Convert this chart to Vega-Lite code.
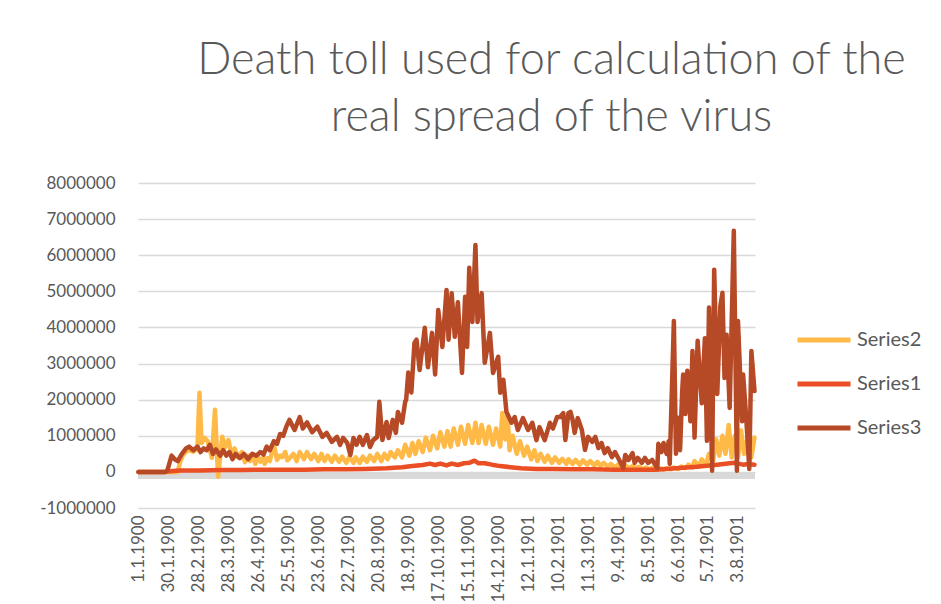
{
  "$schema": "https://vega.github.io/schema/vega-lite/v6.json",
  "width": 617,
  "height": 325,
  "autosize": {"type": "none"},
  "padding": {"left": 138, "top": 183, "right": 186, "bottom": 96},
  "background": "white",
  "title": {
    "text": ["Death toll used for calculation of the", "real spread of the virus"],
    "font": "Lato",
    "fontWeight": 300,
    "fontSize": 45,
    "color": "#595959",
    "anchor": "middle",
    "frame": "group",
    "dx": 105,
    "lineHeight": 57,
    "baseline": "bottom",
    "offset": -11
  },
  "config": {
    "view": {"stroke": null},
    "font": "Lato",
    "axisY": {
      "labelFont": "Lato",
      "labelFontSize": 17,
      "labelColor": "#595959",
      "labelPadding": 23,
      "labelOverlap": false,
      "labelBound": false,
      "labelFlush": false,
      "grid": true,
      "gridColor": "#d9d9d9",
      "gridWidth": 1.3,
      "ticks": false,
      "domain": false
    }
  },
  "data": {
    "values": [
      {"d":0,"s":"Series2","v":0},{"d":26,"s":"Series2","v":0},{"d":38,"s":"Series2","v":0},{"d":40,"s":"Series2","v":250000},{"d":43,"s":"Series2","v":470000},{"d":48,"s":"Series2","v":610000},{"d":53,"s":"Series2","v":560000},{"d":57,"s":"Series2","v":650000},{"d":59,"s":"Series2","v":2190000},{"d":61,"s":"Series2","v":800000},{"d":64,"s":"Series2","v":940000},{"d":67,"s":"Series2","v":850000},{"d":71,"s":"Series2","v":390000},{"d":74,"s":"Series2","v":1720000},{"d":77,"s":"Series2","v":-140000},{"d":81,"s":"Series2","v":970000},{"d":84,"s":"Series2","v":690000},{"d":87,"s":"Series2","v":880000},{"d":90,"s":"Series2","v":470000},{"d":93,"s":"Series2","v":650000},{"d":96,"s":"Series2","v":410000},{"d":100,"s":"Series2","v":550000},{"d":103,"s":"Series2","v":270000},{"d":106,"s":"Series2","v":450000},{"d":108,"s":"Series2","v":300000},{"d":111,"s":"Series2","v":420000},{"d":113,"s":"Series2","v":220000},{"d":116,"s":"Series2","v":400000},{"d":118,"s":"Series2","v":280000},{"d":121,"s":"Series2","v":400000},{"d":122,"s":"Series2","v":220000},{"d":125,"s":"Series2","v":380000},{"d":127,"s":"Series2","v":300000},{"d":131,"s":"Series2","v":750000},{"d":134,"s":"Series2","v":330000},{"d":137,"s":"Series2","v":450000},{"d":139,"s":"Series2","v":410000},{"d":142,"s":"Series2","v":550000},{"d":144,"s":"Series2","v":320000},{"d":147,"s":"Series2","v":400000},{"d":150,"s":"Series2","v":500000},{"d":153,"s":"Series2","v":300000},{"d":156,"s":"Series2","v":550000},{"d":160,"s":"Series2","v":350000},{"d":163,"s":"Series2","v":550000},{"d":167,"s":"Series2","v":350000},{"d":170,"s":"Series2","v":500000},{"d":174,"s":"Series2","v":300000},{"d":177,"s":"Series2","v":500000},{"d":180,"s":"Series2","v":300000},{"d":183,"s":"Series2","v":450000},{"d":187,"s":"Series2","v":280000},{"d":190,"s":"Series2","v":450000},{"d":194,"s":"Series2","v":280000},{"d":197,"s":"Series2","v":420000},{"d":201,"s":"Series2","v":250000},{"d":204,"s":"Series2","v":420000},{"d":208,"s":"Series2","v":250000},{"d":210,"s":"Series2","v":400000},{"d":214,"s":"Series2","v":250000},{"d":217,"s":"Series2","v":420000},{"d":221,"s":"Series2","v":280000},{"d":224,"s":"Series2","v":450000},{"d":228,"s":"Series2","v":300000},{"d":231,"s":"Series2","v":500000},{"d":235,"s":"Series2","v":300000},{"d":238,"s":"Series2","v":500000},{"d":241,"s":"Series2","v":350000},{"d":244,"s":"Series2","v":550000},{"d":248,"s":"Series2","v":400000},{"d":251,"s":"Series2","v":600000},{"d":255,"s":"Series2","v":400000},{"d":258,"s":"Series2","v":750000},{"d":262,"s":"Series2","v":450000},{"d":265,"s":"Series2","v":800000},{"d":268,"s":"Series2","v":500000},{"d":271,"s":"Series2","v":850000},{"d":275,"s":"Series2","v":550000},{"d":278,"s":"Series2","v":950000},{"d":282,"s":"Series2","v":600000},{"d":285,"s":"Series2","v":1000000},{"d":289,"s":"Series2","v":650000},{"d":292,"s":"Series2","v":1100000},{"d":296,"s":"Series2","v":700000},{"d":299,"s":"Series2","v":1130000},{"d":302,"s":"Series2","v":700000},{"d":305,"s":"Series2","v":1200000},{"d":309,"s":"Series2","v":750000},{"d":312,"s":"Series2","v":1250000},{"d":316,"s":"Series2","v":780000},{"d":319,"s":"Series2","v":1300000},{"d":323,"s":"Series2","v":800000},{"d":326,"s":"Series2","v":1360000},{"d":329,"s":"Series2","v":800000},{"d":332,"s":"Series2","v":1300000},{"d":336,"s":"Series2","v":780000},{"d":339,"s":"Series2","v":1250000},{"d":343,"s":"Series2","v":750000},{"d":346,"s":"Series2","v":1200000},{"d":350,"s":"Series2","v":700000},{"d":352,"s":"Series2","v":1630000},{"d":355,"s":"Series2","v":900000},{"d":357,"s":"Series2","v":1600000},{"d":359,"s":"Series2","v":600000},{"d":362,"s":"Series2","v":1000000},{"d":366,"s":"Series2","v":500000},{"d":369,"s":"Series2","v":850000},{"d":373,"s":"Series2","v":450000},{"d":376,"s":"Series2","v":700000},{"d":380,"s":"Series2","v":350000},{"d":383,"s":"Series2","v":600000},{"d":386,"s":"Series2","v":300000},{"d":389,"s":"Series2","v":500000},{"d":393,"s":"Series2","v":280000},{"d":396,"s":"Series2","v":450000},{"d":400,"s":"Series2","v":250000},{"d":403,"s":"Series2","v":400000},{"d":407,"s":"Series2","v":250000},{"d":410,"s":"Series2","v":360000},{"d":414,"s":"Series2","v":220000},{"d":416,"s":"Series2","v":350000},{"d":420,"s":"Series2","v":220000},{"d":423,"s":"Series2","v":330000},{"d":427,"s":"Series2","v":200000},{"d":430,"s":"Series2","v":320000},{"d":434,"s":"Series2","v":200000},{"d":437,"s":"Series2","v":300000},{"d":441,"s":"Series2","v":180000},{"d":444,"s":"Series2","v":280000},{"d":447,"s":"Series2","v":170000},{"d":450,"s":"Series2","v":250000},{"d":454,"s":"Series2","v":150000},{"d":457,"s":"Series2","v":220000},{"d":461,"s":"Series2","v":130000},{"d":464,"s":"Series2","v":200000},{"d":468,"s":"Series2","v":120000},{"d":471,"s":"Series2","v":180000},{"d":475,"s":"Series2","v":100000},{"d":478,"s":"Series2","v":160000},{"d":481,"s":"Series2","v":100000},{"d":484,"s":"Series2","v":140000},{"d":488,"s":"Series2","v":80000},{"d":491,"s":"Series2","v":120000},{"d":495,"s":"Series2","v":70000},{"d":498,"s":"Series2","v":120000},{"d":502,"s":"Series2","v":60000},{"d":505,"s":"Series2","v":100000},{"d":508,"s":"Series2","v":60000},{"d":511,"s":"Series2","v":100000},{"d":515,"s":"Series2","v":70000},{"d":518,"s":"Series2","v":120000},{"d":522,"s":"Series2","v":80000},{"d":525,"s":"Series2","v":150000},{"d":529,"s":"Series2","v":100000},{"d":532,"s":"Series2","v":200000},{"d":536,"s":"Series2","v":120000},{"d":538,"s":"Series2","v":300000},{"d":542,"s":"Series2","v":150000},{"d":545,"s":"Series2","v":350000},{"d":549,"s":"Series2","v":200000},{"d":552,"s":"Series2","v":500000},{"d":556,"s":"Series2","v":300000},{"d":559,"s":"Series2","v":900000},{"d":562,"s":"Series2","v":450000},{"d":565,"s":"Series2","v":1000000},{"d":568,"s":"Series2","v":500000},{"d":571,"s":"Series2","v":1300000},{"d":574,"s":"Series2","v":400000},{"d":577,"s":"Series2","v":1000000},{"d":580,"s":"Series2","v":400000},{"d":583,"s":"Series2","v":1150000},{"d":586,"s":"Series2","v":500000},{"d":590,"s":"Series2","v":1000000},{"d":593,"s":"Series2","v":400000},{"d":596,"s":"Series2","v":950000},
      {"d":0,"s":"Series1","v":0},{"d":26,"s":"Series1","v":0},{"d":30,"s":"Series1","v":20000},{"d":40,"s":"Series1","v":40000},{"d":60,"s":"Series1","v":40000},{"d":80,"s":"Series1","v":50000},{"d":100,"s":"Series1","v":50000},{"d":120,"s":"Series1","v":60000},{"d":140,"s":"Series1","v":60000},{"d":160,"s":"Series1","v":60000},{"d":180,"s":"Series1","v":70000},{"d":200,"s":"Series1","v":70000},{"d":220,"s":"Series1","v":80000},{"d":240,"s":"Series1","v":100000},{"d":255,"s":"Series1","v":130000},{"d":265,"s":"Series1","v":160000},{"d":275,"s":"Series1","v":190000},{"d":282,"s":"Series1","v":230000},{"d":287,"s":"Series1","v":190000},{"d":292,"s":"Series1","v":230000},{"d":298,"s":"Series1","v":180000},{"d":303,"s":"Series1","v":230000},{"d":309,"s":"Series1","v":190000},{"d":315,"s":"Series1","v":240000},{"d":320,"s":"Series1","v":250000},{"d":325,"s":"Series1","v":310000},{"d":329,"s":"Series1","v":240000},{"d":335,"s":"Series1","v":240000},{"d":342,"s":"Series1","v":200000},{"d":350,"s":"Series1","v":160000},{"d":360,"s":"Series1","v":130000},{"d":370,"s":"Series1","v":100000},{"d":385,"s":"Series1","v":80000},{"d":400,"s":"Series1","v":80000},{"d":420,"s":"Series1","v":70000},{"d":440,"s":"Series1","v":70000},{"d":460,"s":"Series1","v":60000},{"d":480,"s":"Series1","v":60000},{"d":500,"s":"Series1","v":60000},{"d":510,"s":"Series1","v":80000},{"d":520,"s":"Series1","v":100000},{"d":530,"s":"Series1","v":120000},{"d":540,"s":"Series1","v":140000},{"d":550,"s":"Series1","v":170000},{"d":560,"s":"Series1","v":200000},{"d":570,"s":"Series1","v":230000},{"d":577,"s":"Series1","v":250000},{"d":585,"s":"Series1","v":200000},{"d":590,"s":"Series1","v":220000},{"d":596,"s":"Series1","v":200000},
      {"d":0,"s":"Series3","v":0},{"d":26,"s":"Series3","v":0},{"d":28,"s":"Series3","v":50000},{"d":32,"s":"Series3","v":450000},{"d":35,"s":"Series3","v":350000},{"d":38,"s":"Series3","v":300000},{"d":42,"s":"Series3","v":500000},{"d":46,"s":"Series3","v":650000},{"d":49,"s":"Series3","v":700000},{"d":53,"s":"Series3","v":600000},{"d":57,"s":"Series3","v":700000},{"d":60,"s":"Series3","v":550000},{"d":63,"s":"Series3","v":650000},{"d":66,"s":"Series3","v":600000},{"d":69,"s":"Series3","v":750000},{"d":72,"s":"Series3","v":500000},{"d":75,"s":"Series3","v":620000},{"d":79,"s":"Series3","v":450000},{"d":82,"s":"Series3","v":600000},{"d":85,"s":"Series3","v":450000},{"d":88,"s":"Series3","v":550000},{"d":91,"s":"Series3","v":350000},{"d":94,"s":"Series3","v":500000},{"d":98,"s":"Series3","v":380000},{"d":102,"s":"Series3","v":500000},{"d":106,"s":"Series3","v":350000},{"d":110,"s":"Series3","v":500000},{"d":114,"s":"Series3","v":450000},{"d":118,"s":"Series3","v":550000},{"d":121,"s":"Series3","v":480000},{"d":124,"s":"Series3","v":700000},{"d":127,"s":"Series3","v":600000},{"d":131,"s":"Series3","v":850000},{"d":134,"s":"Series3","v":780000},{"d":137,"s":"Series3","v":1050000},{"d":140,"s":"Series3","v":1000000},{"d":143,"s":"Series3","v":1250000},{"d":146,"s":"Series3","v":1440000},{"d":151,"s":"Series3","v":1160000},{"d":156,"s":"Series3","v":1520000},{"d":159,"s":"Series3","v":1200000},{"d":163,"s":"Series3","v":1370000},{"d":168,"s":"Series3","v":1100000},{"d":173,"s":"Series3","v":1250000},{"d":178,"s":"Series3","v":970000},{"d":182,"s":"Series3","v":1080000},{"d":187,"s":"Series3","v":830000},{"d":192,"s":"Series3","v":970000},{"d":195,"s":"Series3","v":750000},{"d":198,"s":"Series3","v":940000},{"d":202,"s":"Series3","v":800000},{"d":205,"s":"Series3","v":470000},{"d":208,"s":"Series3","v":940000},{"d":211,"s":"Series3","v":750000},{"d":214,"s":"Series3","v":970000},{"d":217,"s":"Series3","v":750000},{"d":221,"s":"Series3","v":1020000},{"d":224,"s":"Series3","v":690000},{"d":227,"s":"Series3","v":880000},{"d":231,"s":"Series3","v":970000},{"d":233,"s":"Series3","v":1940000},{"d":236,"s":"Series3","v":880000},{"d":240,"s":"Series3","v":1380000},{"d":242,"s":"Series3","v":940000},{"d":246,"s":"Series3","v":1440000},{"d":249,"s":"Series3","v":1080000},{"d":251,"s":"Series3","v":1660000},{"d":255,"s":"Series3","v":1360000},{"d":258,"s":"Series3","v":1940000},{"d":259,"s":"Series3","v":2000000},{"d":261,"s":"Series3","v":2750000},{"d":264,"s":"Series3","v":2200000},{"d":267,"s":"Series3","v":3570000},{"d":269,"s":"Series3","v":3660000},{"d":272,"s":"Series3","v":2820000},{"d":277,"s":"Series3","v":3990000},{"d":280,"s":"Series3","v":2900000},{"d":284,"s":"Series3","v":3850000},{"d":287,"s":"Series3","v":2700000},{"d":290,"s":"Series3","v":4480000},{"d":294,"s":"Series3","v":3460000},{"d":298,"s":"Series3","v":5040000},{"d":300,"s":"Series3","v":3660000},{"d":303,"s":"Series3","v":4950000},{"d":306,"s":"Series3","v":3740000},{"d":309,"s":"Series3","v":4700000},{"d":313,"s":"Series3","v":2740000},{"d":316,"s":"Series3","v":4850000},{"d":318,"s":"Series3","v":3460000},{"d":320,"s":"Series3","v":5650000},{"d":323,"s":"Series3","v":4150000},{"d":326,"s":"Series3","v":6280000},{"d":328,"s":"Series3","v":4150000},{"d":332,"s":"Series3","v":4950000},{"d":335,"s":"Series3","v":3020000},{"d":340,"s":"Series3","v":3850000},{"d":343,"s":"Series3","v":2740000},{"d":348,"s":"Series3","v":3190000},{"d":350,"s":"Series3","v":2190000},{"d":353,"s":"Series3","v":2550000},{"d":356,"s":"Series3","v":1660000},{"d":361,"s":"Series3","v":1360000},{"d":364,"s":"Series3","v":1520000},{"d":367,"s":"Series3","v":1160000},{"d":372,"s":"Series3","v":1490000},{"d":377,"s":"Series3","v":1160000},{"d":381,"s":"Series3","v":1360000},{"d":385,"s":"Series3","v":880000},{"d":388,"s":"Series3","v":1240000},{"d":393,"s":"Series3","v":880000},{"d":398,"s":"Series3","v":1360000},{"d":401,"s":"Series3","v":1200000},{"d":405,"s":"Series3","v":1520000},{"d":408,"s":"Series3","v":1520000},{"d":411,"s":"Series3","v":1630000},{"d":413,"s":"Series3","v":880000},{"d":416,"s":"Series3","v":1630000},{"d":418,"s":"Series3","v":1660000},{"d":420,"s":"Series3","v":1440000},{"d":422,"s":"Series3","v":1080000},{"d":425,"s":"Series3","v":1490000},{"d":429,"s":"Series3","v":1160000},{"d":432,"s":"Series3","v":610000},{"d":435,"s":"Series3","v":970000},{"d":439,"s":"Series3","v":830000},{"d":442,"s":"Series3","v":970000},{"d":445,"s":"Series3","v":660000},{"d":448,"s":"Series3","v":800000},{"d":451,"s":"Series3","v":520000},{"d":454,"s":"Series3","v":660000},{"d":458,"s":"Series3","v":410000},{"d":461,"s":"Series3","v":550000},{"d":464,"s":"Series3","v":390000},{"d":469,"s":"Series3","v":110000},{"d":471,"s":"Series3","v":470000},{"d":474,"s":"Series3","v":330000},{"d":478,"s":"Series3","v":520000},{"d":480,"s":"Series3","v":250000},{"d":483,"s":"Series3","v":390000},{"d":487,"s":"Series3","v":250000},{"d":490,"s":"Series3","v":390000},{"d":493,"s":"Series3","v":250000},{"d":497,"s":"Series3","v":330000},{"d":502,"s":"Series3","v":110000},{"d":503,"s":"Series3","v":780000},{"d":506,"s":"Series3","v":550000},{"d":508,"s":"Series3","v":800000},{"d":511,"s":"Series3","v":500000},{"d":513,"s":"Series3","v":850000},{"d":514,"s":"Series3","v":220000},{"d":518,"s":"Series3","v":4180000},{"d":520,"s":"Series3","v":500000},{"d":522,"s":"Series3","v":1500000},{"d":524,"s":"Series3","v":600000},{"d":526,"s":"Series3","v":2200000},{"d":527,"s":"Series3","v":2700000},{"d":529,"s":"Series3","v":1600000},{"d":531,"s":"Series3","v":2800000},{"d":534,"s":"Series3","v":1400000},{"d":536,"s":"Series3","v":3350000},{"d":538,"s":"Series3","v":950000},{"d":541,"s":"Series3","v":3630000},{"d":545,"s":"Series3","v":1900000},{"d":548,"s":"Series3","v":3700000},{"d":550,"s":"Series3","v":860000},{"d":552,"s":"Series3","v":4550000},{"d":555,"s":"Series3","v":30000},{"d":557,"s":"Series3","v":5600000},{"d":560,"s":"Series3","v":2160000},{"d":563,"s":"Series3","v":4600000},{"d":565,"s":"Series3","v":4960000},{"d":567,"s":"Series3","v":2600000},{"d":569,"s":"Series3","v":3800000},{"d":572,"s":"Series3","v":1770000},{"d":576,"s":"Series3","v":6680000},{"d":579,"s":"Series3","v":30000},{"d":580,"s":"Series3","v":4180000},{"d":584,"s":"Series3","v":1400000},{"d":585,"s":"Series3","v":2700000},{"d":588,"s":"Series3","v":1500000},{"d":591,"s":"Series3","v":80000},{"d":593,"s":"Series3","v":3350000},{"d":596,"s":"Series3","v":2240000}
    ]
  },
  "layer": [
    {
      "mark": {"type": "rule", "color": "#d9d9d9", "strokeWidth": 7, "yOffset": 3.5},
      "encoding": {
        "y": {
          "datum": 0,
          "type": "quantitative",
          "scale": {"domain": [-1000000, 8000000], "nice": false},
          "axis": {
            "title": null,
            "values": [-1000000,0,1000000,2000000,3000000,4000000,5000000,6000000,7000000,8000000],
            "labelExpr": "'' + datum.value"
          }
        }
      }
    },
    {
      "mark": {"type": "line", "strokeWidth": 4.5, "strokeJoin": "round", "strokeCap": "round"},
      "encoding": {
        "x": {
          "field": "d",
          "type": "quantitative",
          "scale": {"domain": [-0.5, 596.5], "nice": false, "zero": false},
          "axis": {
            "title": null,
            "values": [0,29,58,87,116,145,174,203,232,261,290,319,348,377,406,435,464,493,522,551,580],
            "labelExpr": "['1.1.1900','30.1.1900','28.2.1900','28.3.1900','26.4.1900','25.5.1900','23.6.1900','22.7.1900','20.8.1900','18.9.1900','17.10.1900','15.11.1900','14.12.1900','12.1.1901','10.2.1901','11.3.1901','9.4.1901','8.5.1901','6.6.1901','5.7.1901','3.8.1901'][round(datum.value/29)]",
            "labelAngle": -90,
            "labelAlign": "right",
            "labelBaseline": "middle",
            "labelPadding": 7,
            "labelFont": "Lato",
            "labelFontSize": 17,
            "labelColor": "#595959",
            "labelOverlap": false,
            "labelBound": false,
            "labelFlush": false,
            "grid": false,
            "ticks": false,
            "domain": false
          }
        },
        "y": {
          "field": "v",
          "type": "quantitative",
          "scale": {"domain": [-1000000, 8000000], "nice": false},
          "axis": {
            "title": null,
            "values": [-1000000,0,1000000,2000000,3000000,4000000,5000000,6000000,7000000,8000000],
            "labelExpr": "'' + datum.value"
          }
        },
        "color": {
          "field": "s",
          "type": "nominal",
          "scale": {"domain": ["Series2", "Series1", "Series3"], "range": ["#FFB946", "#E94E24", "#B64926"]},
          "legend": {
            "title": null,
            "orient": "none",
            "legendX": 657,
            "legendY": 128,
            "symbolType": "stroke",
            "symbolSize": 2809,
            "symbolStrokeWidth": 5,
            "labelFont": "Lato",
            "labelFontSize": 20,
            "labelColor": "#595959",
            "labelOffset": 4,
            "rowPadding": 5
          }
        }
      }
    }
  ]
}
